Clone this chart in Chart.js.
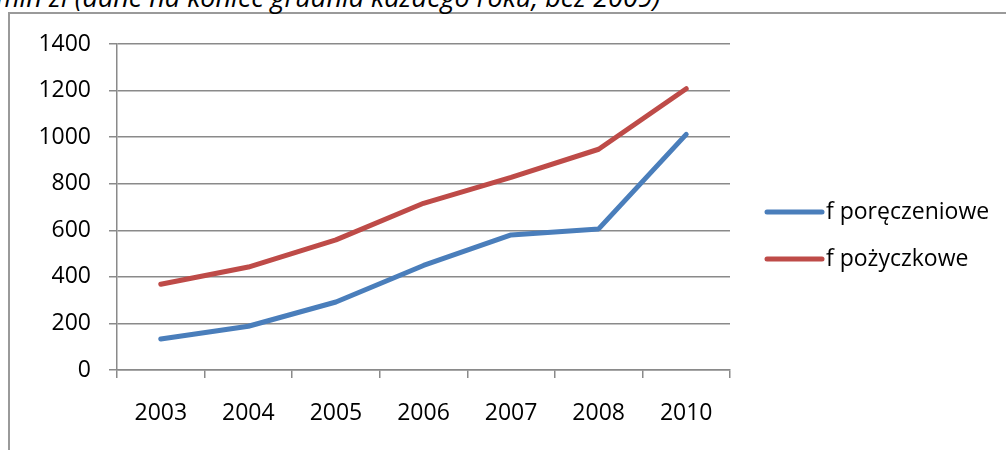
<!DOCTYPE html>
<html lang="pl">
<head>
<meta charset="utf-8">
<title>Fundusze poręczeniowe i pożyczkowe</title>
<script src="https://cdn.jsdelivr.net/npm/chart.js@4/dist/chart.umd.min.js"></script>
<style>
  html, body { margin: 0; padding: 0; background: #fff; overflow: hidden; }
  #wrap { position: relative; width: 1006px; height: 450px; overflow: hidden; }
  #frame {
    position: absolute; left: 8px; top: 12px; width: 1100px; height: 500px;
    border-left: 2px solid #9a9a9a; border-top: 2px solid #9a9a9a;
  }
  #subtitle {
    position: absolute; left: -4px; top: -20px; white-space: nowrap;
    font-family: "Open Sans", Lato, sans-serif; font-style: italic;
    font-size: 27px; color: #000; line-height: 34px;
  }
  #c { position: absolute; left: 0; top: 0; }
</style>
</head>
<body>
<div id="wrap">
  <div id="frame"></div>
  <div id="subtitle">mln zł (dane na koniec grudnia każdego roku, bez 2009)</div>
  <canvas id="c" width="1006" height="450"></canvas>
</div>
<script>
// Years (2009 is not reported)
const years = ['2003', '2004', '2005', '2006', '2007', '2008', '2010'];
// Capital of guarantee funds, mln zł
const poreczeniowe = [133, 188, 292, 449, 580, 606, 1012];
// Capital of loan funds, mln zł
const pozyczkowe = [368, 442, 559, 716, 827, 948, 1208];
// Value axis ticks
const yTicks = [0, 200, 400, 600, 800, 1000, 1200, 1400];

const FONT = '"Open Sans", Lato, sans-serif';
const AXIS_GRAY = '#8a8a8a';

// Legend drawn to the right of the plot, one row per dataset
const sideLegend = {
  id: 'sideLegend',
  afterDraw(chart) {
    const ctx = chart.ctx;
    const x0 = 767, x1 = 822, y0 = 212, step = 47;
    ctx.save();
    chart.data.datasets.forEach((ds, i) => {
      const y = y0 + i * step;
      ctx.strokeStyle = ds.borderColor;
      ctx.lineWidth = 5;
      ctx.lineCap = 'round';
      ctx.beginPath();
      ctx.moveTo(x0, y);
      ctx.lineTo(x1, y);
      ctx.stroke();
      ctx.fillStyle = '#000';
      ctx.font = '23px ' + FONT;
      ctx.textBaseline = 'middle';
      ctx.textAlign = 'left';
      ctx.fillText(ds.label, x1 + 4, y);
    });
    ctx.restore();
  }
};

new Chart(document.getElementById('c'), {
  type: 'line',
  data: {
    labels: years,
    datasets: [
      {
        label: 'f poręczeniowe',
        data: poreczeniowe,
        borderColor: '#4a7ebb',
        backgroundColor: '#4a7ebb',
        borderWidth: 5,
        borderCapStyle: 'round',
        borderJoinStyle: 'round',
        pointRadius: 0,
        tension: 0
      },
      {
        label: 'f pożyczkowe',
        data: pozyczkowe,
        borderColor: '#be4b48',
        backgroundColor: '#be4b48',
        borderWidth: 5,
        borderCapStyle: 'round',
        borderJoinStyle: 'round',
        pointRadius: 0,
        tension: 0
      }
    ]
  },
  options: {
    responsive: false,
    animation: false,
    events: [],
    layout: { padding: { left: 0, right: 276, top: 44, bottom: 0 } },
    plugins: {
      legend: { display: false },
      title: { display: false },
      tooltip: { enabled: false }
    },
    scales: {
      x: {
        type: 'category',
        offset: true,
        grid: {
          offset: true,
          drawOnChartArea: false,
          drawTicks: true,
          tickLength: 8,
          color: AXIS_GRAY,
          lineWidth: 1.5
        },
        border: { display: true, color: AXIS_GRAY, width: 1.5 },
        ticks: {
          color: '#000',
          font: { family: FONT, size: 23 },
          padding: 22,
          maxRotation: 0
        },
        afterFit(scale) { scale.height = 80; }
      },
      y: {
        min: 0,
        max: 1400,
        afterBuildTicks(scale) { scale.ticks = yTicks.map(v => ({ value: v })); },
        grid: {
          drawOnChartArea: true,
          drawTicks: true,
          tickLength: 8,
          color: AXIS_GRAY,
          lineWidth: 1.5
        },
        border: { display: true, color: AXIS_GRAY, width: 1.5 },
        ticks: {
          color: '#000',
          font: { family: FONT, size: 23 },
          padding: 18,
          callback: v => String(v)
        },
        afterFit(scale) { scale.width = 117; }
      }
    }
  },
  plugins: [sideLegend]
});
</script>
</body>
</html>
